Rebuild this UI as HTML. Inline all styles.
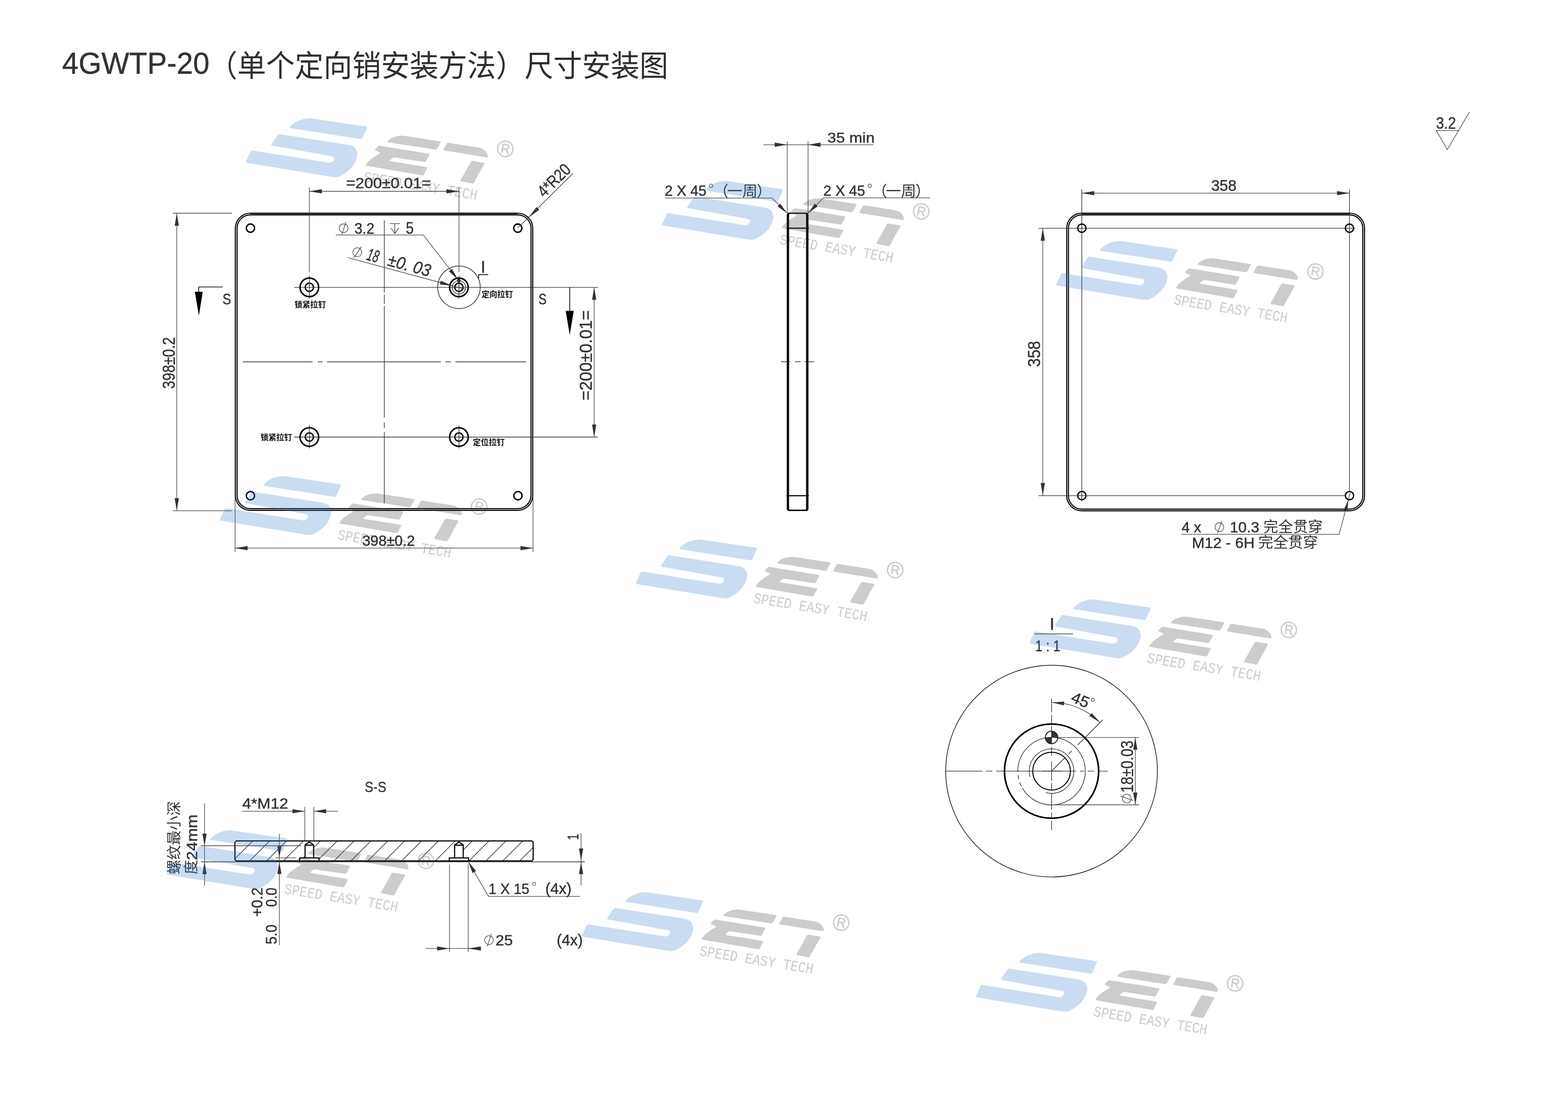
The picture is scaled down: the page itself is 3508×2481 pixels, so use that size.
<!DOCTYPE html>
<html lang="zh"><head><meta charset="utf-8"><title>4GWTP-20 尺寸安装图</title>
<style>
html,body{margin:0;padding:0;background:#fff}
body{width:3508px;height:2481px;overflow:hidden;font-family:"Liberation Sans","Noto Sans CJK SC",sans-serif}
svg{display:block;position:absolute;left:0;top:0;will-change:transform}
text{font-family:"Liberation Sans","Noto Sans CJK SC",sans-serif;fill:#333;stroke:#333;stroke-width:.55px}
text.c{stroke:none}
text.cb{stroke:none;fill:#111;font-weight:bold}
.k{stroke:#000;stroke-width:3.4;fill:none}
.m{stroke:#000;stroke-width:2.5;fill:none}
.n{stroke:#000;stroke-width:1.7;fill:none}
.t{stroke:#222;stroke-width:1.35;fill:none}
.p{stroke:#000;stroke-width:2.4;fill:none}
.g{stroke:#5a5a5a;stroke-width:1.8;fill:none}
.d{stroke:#383838;stroke-width:1.3;fill:none}
.a{fill:#333;stroke:none}
.ab{fill:#000;stroke:none}
.cj{fill:#333}
.wb{fill:#2773cb;fill-opacity:.25}
.wg{fill:#333;fill-opacity:.25}
</style></head><body>
<svg width="3508" height="2481" viewBox="0 0 3508 2481">
<defs>
<g id="wm">
<path class="wb" d="M97.8 -79.7C104 -86 110 -91 118.3 -94.1C127 -97.6 136 -99.4 144.4 -99.1L268.5 -80.8Q272 -80 270.6 -77.2L260.6 -54.6Q259 -52.2 256 -52.7L99.5 -77.3Q96.5 -78 97.8 -79.7Z"/>
<path class="wb" d="M76.3 -63.7L232 -39.3Q247.5 -35.5 249.3 -19.6Q249 -6 239.8 6.5Q229 21.5 207.1 31.9Q201 33 194.1 32.2L3.5 0.6Q-1.2 -0.3 0.8 -3.6L11 -25.3Q12.6 -27.9 15.8 -27L186.2 0Q193.5 0.2 196.7 -6.6Q198.6 -12.6 192 -14.3L58.8 -38.2Q55.6 -39 57.2 -41.8L71.3 -62.3Q73 -64.6 76.3 -63.7Z"/>
<path class="wg" d="M316.9 -47.6C320.5 -52 325 -55.5 331.3 -57.3C338 -59.8 345 -60.6 351.7 -60.4L433.6 -48Q436.6 -47.3 435.3 -45L427.3 -30.8Q425.8 -28.8 423.2 -29.4L318.6 -45.5Q316 -46.2 316.9 -47.6Z"/>
<path class="wg" d="M299.3 -37.8L408.2 -20.1Q411.4 -19.2 410 -16.9L402.6 -3Q401.2 -1 398.6 -1.6L331.3 -11.8Q325.2 -9.5 321.1 -3.7L403.5 9.7Q406.6 10.4 405.3 12.7L398.2 26.7Q396.8 28.9 394.2 28.4L270.5 7.2Q267 6.4 269 4C272 -1.5 276 -5 281.1 -8.7Q290 -15.5 301.5 -22L289.5 -27.6Q287.2 -28.5 289.2 -30.4L295.8 -36.8Q297.2 -38.2 299.3 -37.8Z"/>
<path class="wg" d="M453 -44.3L521 -33.8Q534 -31.2 540.6 -19.7Q541.6 -15.5 540.6 -11.5L443.6 -27.2Q441 -27.9 442.2 -30L449.4 -43Q450.6 -44.8 453 -44.3Z"/>
<path class="wg" d="M507.3 -4L531.6 0Q534.6 0.7 533.2 3.2L510 45Q508.6 47 505.8 46.5L481.7 41.9Q479 41.2 480.6 38.7L503.6 -2.4Q504.8 -4.4 507.3 -4Z"/>
<g transform="translate(580.3 -30.9) rotate(9)"><circle r="17.2" fill="none" stroke="#333" stroke-opacity=".25" stroke-width="3"/><path class="wg" transform="scale(1.22)" d="M-6.6 8.6V-8.9H1.6Q7 -8.9 7 -4Q7 -0.3 3.3 0.7L8 8.6H4.9L0.6 1.2H-3.9V8.6ZM-3.9 -6.6V-1.1H1.2Q4.2 -1.1 4.2 -3.9Q4.2 -6.6 1.2 -6.6Z"/></g>
<text transform="translate(262 42.2) rotate(9.2) skewX(-2)" font-size="33.5" textLength="257" lengthAdjust="spacingAndGlyphs" style="font-family:'Liberation Mono',monospace;fill:#333;fill-opacity:.25;stroke:none" xml:space="preserve">SPEED EASY TECH</text>
</g>
</defs>
<rect width="3508" height="2481" fill="#fff"/>
<g id="title" fill="#2f2f2f">
<text x="139" y="165.4" font-size="68.5" textLength="329.6" lengthAdjust="spacingAndGlyphs" fill="#2f2f2f" xml:space="preserve">4GWTP-20</text>
<g aria-label="（单个定向销安装方法）尺寸安装图" fill="#2f2f2f"><text class="c" x="466.8" y="170.8" font-size="67.4" textLength="1028.3" lengthAdjust="spacingAndGlyphs" style="fill:#2f2f2f">（单个定向销安装方法）尺寸安装图</text>
</g>
</g>
<g id="view1">
<line class="g" x1="560" y1="478.9" x2="1158" y2="478.9"/>
<rect class="p" x="526.5" y="476.9" width="665.4" height="664.9" rx="33.8"/>
<rect class="p" x="530.4" y="480.7" width="657.6" height="657.3" rx="30"/>
<circle class="k" style="stroke-width:3.1" cx="560.3" cy="510.3" r="9.2"/>
<circle class="k" style="stroke-width:3.1" cx="1158.5" cy="510.3" r="9.2"/>
<circle class="k" style="stroke-width:3.1" cx="560.3" cy="1109" r="9.2"/>
<circle class="k" style="stroke-width:3.1" cx="1158.8" cy="1109" r="9.2"/>
<circle class="k" cx="692.1" cy="642.8" r="20.8"/>
<circle class="k" style="stroke-width:3" cx="692.1" cy="642.8" r="9.2"/>
<line class="t" x1="692.1" y1="616.3" x2="692.1" y2="668.3"/>
<circle class="k" cx="692.1" cy="977.7" r="20.8"/>
<circle class="k" style="stroke-width:3" cx="692.1" cy="977.7" r="9.2"/>
<line class="t" x1="692.1" y1="951.2" x2="692.1" y2="1003.2"/>
<circle class="k" cx="1026.7" cy="642.8" r="20.8"/>
<circle class="k" style="stroke-width:3" cx="1026.7" cy="642.8" r="9.2"/>
<line class="t" x1="1026.7" y1="616.3" x2="1026.7" y2="668.3"/>
<circle class="k" cx="1026.7" cy="977.7" r="20.8"/>
<circle class="k" style="stroke-width:3" cx="1026.7" cy="977.7" r="9.2"/>
<line class="t" x1="1026.7" y1="951.2" x2="1026.7" y2="1003.2"/>
<circle class="t" cx="1026.7" cy="642.8" r="15"/>
<path class="t" d="M1017 645.3A10 10 0 1 1 1024.1 652.4"/>
<circle class="n" cx="1026.7" cy="627.8" r="2.9"/>
<circle class="n" style="stroke-width:1.3" cx="1026.8" cy="642.7" r="47.6"/>
<line class="d" x1="692.1" y1="419" x2="692.1" y2="609"/>
<line class="d" x1="1026.8" y1="419" x2="1026.8" y2="609"/>
<line class="t" x1="658" y1="642.8" x2="1338" y2="642.8"/>
<line class="t" x1="657.9" y1="977.7" x2="1337.3" y2="977.7"/>
<line class="t" x1="543.2" y1="809.5" x2="699.5" y2="809.5"/>
<line class="t" x1="710.7" y1="809.5" x2="722" y2="809.5"/>
<line class="t" x1="731.5" y1="809.5" x2="986.5" y2="809.5"/>
<line class="t" x1="996" y1="809.5" x2="1009" y2="809.5"/>
<line class="t" x1="1018.5" y1="809.5" x2="1176.5" y2="809.5"/>
<line class="t" x1="859.7" y1="493" x2="859.7" y2="654.5"/>
<line class="t" x1="859.7" y1="659.5" x2="859.7" y2="680"/>
<line class="t" x1="859.7" y1="685" x2="859.7" y2="934"/>
<line class="t" x1="859.7" y1="945" x2="859.7" y2="958"/>
<line class="t" x1="859.7" y1="966" x2="859.7" y2="1126"/>
<line class="d" x1="692.1" y1="428" x2="1026.8" y2="428"/>
<polygon class="a" points="692.1,428 720.1,423.3 720.1,432.7"/>
<polygon class="a" points="1026.8,428 998.8,432.7 998.8,423.3"/>
<text x="774.3" y="421.3" font-size="33.7" textLength="190" lengthAdjust="spacingAndGlyphs" xml:space="preserve">=200±0.01=</text>
<line class="d" x1="395.5" y1="476.5" x2="395.5" y2="1142.6"/>
<line class="d" x1="386.6" y1="477" x2="519" y2="477"/>
<line class="d" x1="386.6" y1="1142.6" x2="518.5" y2="1142.6"/>
<polygon class="a" points="395.5,477 400.2,505 390.8,505"/>
<polygon class="a" points="395.5,1142.6 390.8,1114.6 400.2,1114.6"/>
<text x="-1.2" y="0" font-size="39.1" textLength="115.6" lengthAdjust="spacingAndGlyphs" transform="translate(391.1 868.5) rotate(-90)" xml:space="preserve">398±0.2</text>
<line class="d" x1="525.9" y1="1226.2" x2="1192.5" y2="1226.2"/>
<line class="d" x1="525.9" y1="1109" x2="525.9" y2="1235"/>
<line class="d" x1="1192.5" y1="1109" x2="1192.5" y2="1235"/>
<polygon class="a" points="525.9,1226.2 553.9,1221.5 553.9,1230.9"/>
<polygon class="a" points="1192.5,1226.2 1164.5,1230.9 1164.5,1221.5"/>
<text x="810.4" y="1220.5" font-size="32.9" textLength="117.9" lengthAdjust="spacingAndGlyphs" xml:space="preserve">398±0.2</text>
<line class="d" x1="1329.3" y1="642.8" x2="1329.3" y2="977.7"/>
<polygon class="a" points="1329.3,642.8 1334,670.8 1324.6,670.8"/>
<polygon class="a" points="1329.3,977.7 1324.6,949.7 1334,949.7"/>
<text x="-1.8" y="0" font-size="38.1" textLength="201.7" lengthAdjust="spacingAndGlyphs" transform="translate(1324 894) rotate(-90)" xml:space="preserve">=200±0.01=</text>
<polyline class="n" points="498,642 444.5,642 444.5,654"/>
<polygon class="ab" points="435.9,652.7 453.6,652.7 445,706"/>
<line class="n" x1="1274.6" y1="642.8" x2="1274.6" y2="696"/>
<polygon class="ab" points="1265.6,695.5 1283.6,695.5 1274.6,749"/>
<text x="497.7" y="681.3" font-size="35.4" textLength="19.3" lengthAdjust="spacingAndGlyphs" xml:space="preserve">S</text>
<text x="1204.8" y="681.3" font-size="35.4" textLength="18" lengthAdjust="spacingAndGlyphs" xml:space="preserve">S</text>
<polyline class="d" points="751.1,525.7 947.1,525.7 1025.5,627"/>
<polygon class="a" points="1025.5,627 1004.4,606.7 1011.2,601.4"/>
<g class="d"><circle cx="768.7" cy="510.7" r="9.8"/><line x1="764.6" y1="524.6" x2="774.1" y2="496.8"/></g>
<text x="793" y="522.5" font-size="35.8" textLength="44.6" lengthAdjust="spacingAndGlyphs" xml:space="preserve">3.2</text>
<polyline class="d" points="872,500.3 894.8,500.3"/>
<line class="d" x1="883.3" y1="500.3" x2="883.3" y2="522.5"/>
<polyline class="d" points="874.6,510 883.3,522.5 892.2,510"/>
<text x="907.9" y="522.5" font-size="36.3" textLength="17.6" lengthAdjust="spacingAndGlyphs" xml:space="preserve">5</text>
<g transform="translate(778.2 576.3) rotate(15.1)">
<line class="d" x1="0" y1="0" x2="272.5" y2="0"/>
<polygon class="a" points="242.3,0 214.3,4.3 214.3,-4.3"/>
<g class="d"><circle cx="17.4" cy="-17.1" r="10"/><line x1="13.2" y1="-2.9" x2="22.9" y2="-31.3"/></g>
<text x="39.9" y="-6" font-size="38.7" textLength="26.8" lengthAdjust="spacingAndGlyphs" font-style="italic" xml:space="preserve">18</text>
<text x="88.4" y="-6" font-size="38.7" textLength="97.9" lengthAdjust="spacingAndGlyphs" font-style="italic" xml:space="preserve">±0. 03</text>
</g>
<polyline class="n" points="1070.6,623 1071.2,614.4 1092.3,614.4"/>
<text x="1075.6" y="609.8" font-size="37.8" textLength="10.7" lengthAdjust="spacingAndGlyphs" fill="#000" xml:space="preserve">I</text>
<line class="d" x1="1158.4" y1="510.3" x2="1281.3" y2="388.3"/>
<polygon class="a" points="1182.8,486.6 1200.2,463 1206.4,469.2"/>
<text x="-0.7" y="-6" font-size="37.7" textLength="86.9" lengthAdjust="spacingAndGlyphs" transform="translate(1222.3 446.9) rotate(-44.8)" xml:space="preserve">4*R20</text>
<g aria-label="锁紧拉钉" fill="#111"><text class="cb" x="658.9" y="688" font-size="18" textLength="70.4" lengthAdjust="spacingAndGlyphs">锁紧拉钉</text>
</g>
<g aria-label="定向拉钉" fill="#111"><text class="cb" x="1077.5" y="665.2" font-size="18" textLength="70" lengthAdjust="spacingAndGlyphs">定向拉钉</text>
</g>
<g aria-label="锁紧拉钉" fill="#111"><text class="cb" x="582.9" y="985" font-size="18" textLength="70.6" lengthAdjust="spacingAndGlyphs">锁紧拉钉</text>
</g>
<g aria-label="定位拉钉" fill="#111"><text class="cb" x="1058.1" y="995.5" font-size="18" textLength="70.8" lengthAdjust="spacingAndGlyphs">定位拉钉</text>
</g>
</g>
<g id="view2">
<line class="d" x1="1761.2" y1="316" x2="1761.2" y2="477"/>
<line class="d" x1="1807.8" y1="316" x2="1807.8" y2="477"/>
<line class="d" x1="1707.8" y1="323.8" x2="1953.8" y2="323.8"/>
<polygon class="a" points="1761.2,323.8 1733.2,328.5 1733.2,319.1"/>
<polygon class="a" points="1807.8,323.8 1835.8,319.1 1835.8,328.5"/>
<text x="1851.1" y="319" font-size="31.7" textLength="105.6" lengthAdjust="spacingAndGlyphs" xml:space="preserve">35 min</text>
<line class="k" style="stroke-width:5.4" x1="1762.9" y1="479.6" x2="1762.9" y2="1140"/>
<line class="k" style="stroke-width:5.4" x1="1806" y1="479.6" x2="1806" y2="1140"/>
<path fill="#000" d="M1760.2 480.6L1763 475.8H1806L1808.8 480.6ZM1760.2 1139L1763 1143.2H1806L1808.8 1139Z"/>
<rect x="1765.6" y="478.4" width="37.6" height="661.7" fill="#fff"/>
<line class="k" style="stroke-width:2.3" x1="1759.6" y1="510.5" x2="1809.6" y2="510.5"/>
<line class="k" style="stroke-width:2.3" x1="1759.6" y1="1109" x2="1809.6" y2="1109"/>
<line class="t" x1="1747" y1="809.3" x2="1768" y2="809.3"/>
<line class="t" x1="1778.6" y1="809.3" x2="1791" y2="809.3"/>
<line class="t" x1="1800" y1="809.3" x2="1821.7" y2="809.3"/>
<polyline class="d" points="1488.2,443.2 1727.3,443.2 1761,477"/>
<polygon class="a" points="1761,477 1739.6,461.7 1745.7,455.6"/>
<polyline class="d" points="2080.9,442.6 1842.3,442.6 1807.8,477"/>
<polygon class="a" points="1807.8,477 1823.1,455.6 1829.2,461.7"/>
<text x="1487.1" y="437.6" font-size="32.9" textLength="93.5" lengthAdjust="spacingAndGlyphs" xml:space="preserve">2 X 45</text>
<circle class="d" cx="1590.7" cy="415.6" r="3.8"/>
<g aria-label="（" fill="#333"><text class="c" x="1596.2" y="438.8" font-size="33.5">（</text>
</g>
<g aria-label="一周" fill="#333"><text class="c" x="1626.7" y="438.8" font-size="33.5" textLength="68.3" lengthAdjust="spacingAndGlyphs">一周</text>
</g>
<g aria-label="）" fill="#333"><text class="c" x="1692.8" y="438.8" font-size="33.5">）</text>
</g>
<text x="1842.1" y="437.6" font-size="32.9" textLength="93.5" lengthAdjust="spacingAndGlyphs" xml:space="preserve">2 X 45</text>
<circle class="d" cx="1945.7" cy="415.6" r="3.8"/>
<g aria-label="（" fill="#333"><text class="c" x="1951.2" y="438.8" font-size="33.5">（</text>
</g>
<g aria-label="一周" fill="#333"><text class="c" x="1981.7" y="438.8" font-size="33.5" textLength="68.3" lengthAdjust="spacingAndGlyphs">一周</text>
</g>
<g aria-label="）" fill="#333"><text class="c" x="2047.8" y="438.8" font-size="33.5">）</text>
</g>
</g>
<g id="view3">
<line class="g" x1="2420" y1="478.9" x2="3019" y2="478.9"/>
<rect class="p" x="2386.5" y="476.9" width="666.3" height="665.9" rx="33.8"/>
<rect class="p" x="2390.4" y="480.7" width="658.5" height="658.3" rx="30"/>
<circle class="k" style="stroke-width:2.9" cx="2420.3" cy="510.5" r="9.2"/>
<circle class="k" style="stroke-width:2.9" cx="2420.3" cy="1108.8" r="9.2"/>
<circle class="k" style="stroke-width:2.9" cx="3019.1" cy="510.5" r="9.2"/>
<circle class="k" style="stroke-width:2.9" cx="3019.1" cy="1108.8" r="9.2"/>
<line class="t" x1="2323.6" y1="510.6" x2="3031.8" y2="510.6"/>
<line class="t" x1="2323.6" y1="1108.8" x2="3009" y2="1108.8"/>
<line class="t" x1="2420.3" y1="423.6" x2="2420.3" y2="1121.4"/>
<line class="t" x1="3019.1" y1="423.6" x2="3019.1" y2="1099.5"/>
<line class="d" x1="2420.1" y1="432.1" x2="3019.3" y2="432.1"/>
<polygon class="a" points="2420.1,432.1 2448.1,427.4 2448.1,436.8"/>
<polygon class="a" points="3019.3,432.1 2991.3,436.8 2991.3,427.4"/>
<text x="2709.7" y="427.1" font-size="34.4" textLength="56.8" lengthAdjust="spacingAndGlyphs" xml:space="preserve">358</text>
<line class="d" x1="2333" y1="510.6" x2="2333" y2="1108.6"/>
<polygon class="a" points="2333,510.6 2337.7,538.6 2328.3,538.6"/>
<polygon class="a" points="2333,1108.6 2328.3,1080.6 2337.7,1080.6"/>
<text x="-1.3" y="0" font-size="39.4" textLength="58.1" lengthAdjust="spacingAndGlyphs" transform="translate(2327.1 819.6) rotate(-90)" xml:space="preserve">358</text>
<polyline class="d" points="2643,1195.4 2996,1195.4 3021.4,1100.2"/>
<polygon class="a" points="3016.9,1117 3014.2,1144.2 3005.7,1142"/>
<text x="2643.5" y="1191" font-size="33.9" textLength="43.8" lengthAdjust="spacingAndGlyphs" xml:space="preserve">4 x</text>
<g class="d"><circle cx="2728" cy="1179.2" r="9.8"/><line x1="2723.9" y1="1193.1" x2="2733.4" y2="1165.3"/></g>
<text x="2751.4" y="1191" font-size="33.4" textLength="66.1" lengthAdjust="spacingAndGlyphs" xml:space="preserve">10.3</text>
<g aria-label="完全贯穿" fill="#333"><text class="c" x="2826.6" y="1190.3" font-size="32.5" textLength="132.6" lengthAdjust="spacingAndGlyphs">完全贯穿</text>
</g>
<text x="2666.5" y="1225.7" font-size="34.1" textLength="140.3" lengthAdjust="spacingAndGlyphs" xml:space="preserve">M12 - 6H</text>
<g aria-label="完全贯穿" fill="#333"><text class="c" x="2815.1" y="1225.2" font-size="32.5" textLength="133.3" lengthAdjust="spacingAndGlyphs">完全贯穿</text>
</g>
</g>
<g id="detail">
<circle class="n" style="stroke-width:1.4" cx="2352.6" cy="1725.1" r="236.8"/>
<circle class="k" style="stroke-width:3.6" cx="2352.6" cy="1725.1" r="105.4"/>
<path class="t" d="M2277 1725.1A75.6 75.6 0 1 1 2287.1 1762.9"/>
<path class="t" stroke-dasharray="10 7" stroke-dashoffset="-4" d="M2287.1 1762.9A75.6 75.6 0 0 1 2277 1725.1"/>
<circle class="m" style="stroke-width:2.2" cx="2352.6" cy="1725.1" r="42.2"/>
<path class="t" d="M2304.3 1737.8A49.9 49.9 0 1 1 2339.4 1773.2"/>
<path fill="#333" d="M2352.6 1649.8V1635.8A14 14 0 0 1 2366.6 1649.8ZM2352.6 1649.8V1663.8A14 14 0 0 1 2338.6 1649.8Z"/>
<circle class="n" style="stroke:#222;stroke-width:2.1" cx="2352.6" cy="1649.8" r="14"/>
<path class="t" d="M2115.8 1725.1H2198M2206 1725.1H2220M2228.5 1725.1H2408M2416 1725.1H2426M2433.5 1725.1H2447.5M2457 1725.1H2478.4"/>
<path class="t" d="M2352.6 1562.8V1593.5M2352.6 1599V1618M2352.6 1624V1665M2352.6 1671V1691M2352.6 1703.4V1746.8M2352.6 1752V1768M2352.6 1774V1812M2352.6 1818V1830M2352.6 1836V1857.2"/>
<line class="t" x1="2331" y1="1725.1" x2="2374.2" y2="1725.1"/>
<path class="t" d="M2354.1 1723.6L2382.6 1695.1M2390.6 1687.1L2397.6 1680.1M2411.1 1666.6L2467.4 1610.3"/>
<path class="d" d="M2352.6 1571.4A153.7 153.7 0 0 1 2461.3 1616.4"/>
<polygon class="a" points="2353.2,1571.4 2381.1,1569.6 2380.3,1578"/>
<polygon class="a" points="2461.3,1616.4 2437.1,1601.6 2442.5,1595.2"/>
<text x="-19.8" y="10.5" font-size="34.6" textLength="40.4" lengthAdjust="spacingAndGlyphs" transform="translate(2416.2 1567) rotate(22.5)" xml:space="preserve">45</text>
<circle class="d" cx="2445" cy="1565.6" r="3.4"/>
<line class="d" x1="2367" y1="1649.8" x2="2548.4" y2="1649.8"/>
<line class="d" x1="2358" y1="1800.5" x2="2548.4" y2="1800.5"/>
<line class="d" x1="2539.9" y1="1649.8" x2="2539.9" y2="1800.5"/>
<polygon class="a" points="2539.9,1649.8 2544.6,1677.3 2535.2,1677.3"/>
<polygon class="a" points="2539.9,1800.5 2535.2,1773 2544.6,1773"/>
<g class="d" transform="translate(2521 1786.5) rotate(-90)"><circle cx="0" cy="0" r="9.8"/><line x1="-4.1" y1="13.9" x2="5.4" y2="-13.9"/></g>
<text x="-2.5" y="0" font-size="38.7" textLength="116.7" lengthAdjust="spacingAndGlyphs" transform="translate(2535 1771) rotate(-90)" xml:space="preserve">18±0.03</text>
<text x="2348.3" y="1408.6" font-size="36.3" textLength="11" lengthAdjust="spacingAndGlyphs" xml:space="preserve">I</text>
<line class="d" style="stroke-width:1.6" x1="2314" y1="1418.3" x2="2400.5" y2="1418.3"/>
<text x="2316.3" y="1456.8" font-size="35.8" textLength="55.8" lengthAdjust="spacingAndGlyphs" xml:space="preserve">1 : 1</text>
</g>
<g id="section">
<text x="816.1" y="1771.5" font-size="33.4" textLength="48.1" lengthAdjust="spacingAndGlyphs" xml:space="preserve">S-S</text>
<clipPath id="cp"><path d="M528.6 1881.2H1189.8L1192.8 1884.2V1923L1189.8 1926H528.6L525.6 1923V1884.2Z"/></clipPath>
<g clip-path="url(#cp)" class="t">
<path d="M491.4 1880L443.4 1928M529.1 1880L481.1 1928M566.9 1880L518.9 1928M604.6 1880L556.6 1928M642.4 1880L594.4 1928M680.1 1880L632.1 1928M717.9 1880L669.9 1928M755.6 1880L707.6 1928M793.4 1880L745.4 1928M831.1 1880L783.1 1928M868.9 1880L820.9 1928M906.6 1880L858.6 1928M944.4 1880L896.4 1928M982.1 1880L934.1 1928M1019.9 1880L971.9 1928M1057.7 1880L1009.7 1928M1095.4 1880L1047.4 1928M1133.2 1880L1085.2 1928M1170.9 1880L1122.9 1928M1208.7 1880L1160.7 1928M1246.4 1880L1198.4 1928"/>
</g>
<path class="m" fill="#fff" style="fill:#fff" d="M670.5 1926.6V1919.2H682.5V1890.2L692.1 1883.6L701.7 1890.2V1919.2H713.7V1926.6Z"/>
<line class="m" x1="682.5" y1="1890.8" x2="701.7" y2="1890.8"/>
<line class="m" x1="682.5" y1="1919.2" x2="701.7" y2="1919.2"/>
<path class="m" fill="#fff" style="fill:#fff" d="M1005.1 1926.6V1919.2H1017.1V1890.2L1026.7 1883.6L1036.3 1890.2V1919.2H1048.3V1926.6Z"/>
<line class="m" x1="1017.1" y1="1890.8" x2="1036.3" y2="1890.8"/>
<line class="m" x1="1017.1" y1="1919.2" x2="1036.3" y2="1919.2"/>
<path class="m" d="M528.6 1881.2H1189.8L1192.8 1884.2V1923L1189.8 1926H528.6L525.6 1923V1884.2Z"/>
<line class="t" x1="449.7" y1="1928" x2="1308.6" y2="1928"/>
<text x="541.9" y="1809.4" font-size="33.2" textLength="102.8" lengthAdjust="spacingAndGlyphs" xml:space="preserve">4*M12</text>
<line class="d" x1="541.8" y1="1814.8" x2="681.9" y2="1814.8"/>
<line class="d" x1="702.2" y1="1814.8" x2="755.9" y2="1814.8"/>
<line class="d" x1="681.9" y1="1805.3" x2="681.9" y2="1882.6"/>
<line class="d" x1="702.2" y1="1805.3" x2="702.2" y2="1882.6"/>
<polygon class="a" points="681.9,1814.8 654.3,1819.4 654.3,1810.2"/>
<polygon class="a" points="702.2,1814.8 729.8,1810.2 729.8,1819.4"/>
<line class="d" x1="457.6" y1="1797.2" x2="457.6" y2="1981.4"/>
<line class="d" x1="449.7" y1="1892" x2="673.8" y2="1892"/>
<polygon class="a" points="457.6,1892 452.9,1865 462.3,1865"/>
<polygon class="a" points="457.6,1928.1 462.3,1955.6 452.9,1955.6"/>
<g aria-label="螺纹最小深" transform="translate(400.5 1956) rotate(-90)" fill="#333"><text class="c" x="0" y="0" font-size="32.6" textLength="163.8" lengthAdjust="spacingAndGlyphs">螺纹最小深</text>
</g>
<g aria-label="度" transform="translate(439.3 1956) rotate(-90)" fill="#333"><text class="c" x="0" y="0" font-size="32.6">度</text>
</g>
<text x="-1.9" y="0" font-size="34.1" textLength="102.5" lengthAdjust="spacingAndGlyphs" transform="translate(441.2 1922.5) rotate(-90)" xml:space="preserve">24mm</text>
<line class="d" x1="625" y1="1865.5" x2="625" y2="2114.2"/>
<line class="d" x1="616.3" y1="1919.1" x2="662.4" y2="1919.1"/>
<polygon class="a" points="625,1919.1 620.3,1893.1 629.7,1893.1"/>
<polygon class="a" points="625,1928.2 629.7,1955.2 620.3,1955.2"/>
<text x="-1.3" y="0" font-size="34.9" textLength="44.5" lengthAdjust="spacingAndGlyphs" transform="translate(619 2111.5) rotate(-90)" xml:space="preserve">5.0</text>
<text x="-1.6" y="0" font-size="34.9" textLength="65.6" lengthAdjust="spacingAndGlyphs" transform="translate(586.5 2049.2) rotate(-90)" xml:space="preserve">+0.2</text>
<text x="-1.2" y="0" font-size="34.9" textLength="43" lengthAdjust="spacingAndGlyphs" transform="translate(619 2027.5) rotate(-90)" xml:space="preserve">0.0</text>
<line class="d" x1="1005.6" y1="1934" x2="1005.6" y2="2129.8"/>
<line class="d" x1="1047.5" y1="1934" x2="1047.5" y2="2129.8"/>
<line class="d" x1="952.2" y1="2121.9" x2="1075.8" y2="2121.9"/>
<polygon class="a" points="1005.6,2121.9 978,2126.5 978,2117.3"/>
<polygon class="a" points="1047.5,2121.9 1075.8,2117.3 1075.8,2126.5"/>
<g class="d"><circle cx="1094" cy="2103.2" r="9.8"/><line x1="1089.9" y1="2117.1" x2="1099.4" y2="2089.3"/></g>
<text x="1108.5" y="2115" font-size="33.5" textLength="38.9" lengthAdjust="spacingAndGlyphs" xml:space="preserve">25</text>
<text x="1245.4" y="2115" font-size="35.2" textLength="58.4" lengthAdjust="spacingAndGlyphs" xml:space="preserve">(4x)</text>
<polyline class="d" points="1297.5,2005.4 1093,2005.4 1047.5,1927.3"/>
<polygon class="a" points="1047.5,1927.3 1065,1948.4 1057.2,1952.9"/>
<text x="1093.1" y="2000" font-size="33.4" textLength="91.2" lengthAdjust="spacingAndGlyphs" xml:space="preserve">1 X 15</text>
<circle class="d" cx="1195" cy="1977.3" r="3.5"/>
<text x="1219.9" y="2000" font-size="34.8" textLength="58.8" lengthAdjust="spacingAndGlyphs" xml:space="preserve">(4x)</text>
<line class="d" x1="1300" y1="1863.7" x2="1300" y2="1980.7"/>
<polygon class="a" points="1300,1925.6 1295.3,1898.2 1304.7,1898.2"/>
<polygon class="a" points="1300,1928.6 1304.7,1955.4 1295.3,1955.4"/>
<text x="-1.9" y="0" font-size="35.8" textLength="13.7" lengthAdjust="spacingAndGlyphs" transform="translate(1293.8 1877.3) rotate(-90)" xml:space="preserve">1</text>
</g>
<g id="rough">
<polyline class="d" points="3262.6,292.1 3213.3,292.1 3238,334.8 3287.8,250"/>
<text x="3212.8" y="287.8" font-size="36.2" textLength="44.6" lengthAdjust="spacingAndGlyphs" xml:space="preserve">3.2</text>
</g>
<g id="watermarks">
<use href="#wm" x="550.2" y="363.9"/>
<use href="#wm" x="1480.8" y="503.9"/>
<use href="#wm" x="2362.7" y="638.3"/>
<use href="#wm" x="491.7" y="1164.2"/>
<use href="#wm" x="1422.4" y="1306.1"/>
<use href="#wm" x="2303.1" y="1440"/>
<use href="#wm" x="372.5" y="1956.5"/>
<use href="#wm" x="1301.7" y="2095.1"/>
<use href="#wm" x="2183.1" y="2230.8"/>
</g>
</svg>
</body></html>
